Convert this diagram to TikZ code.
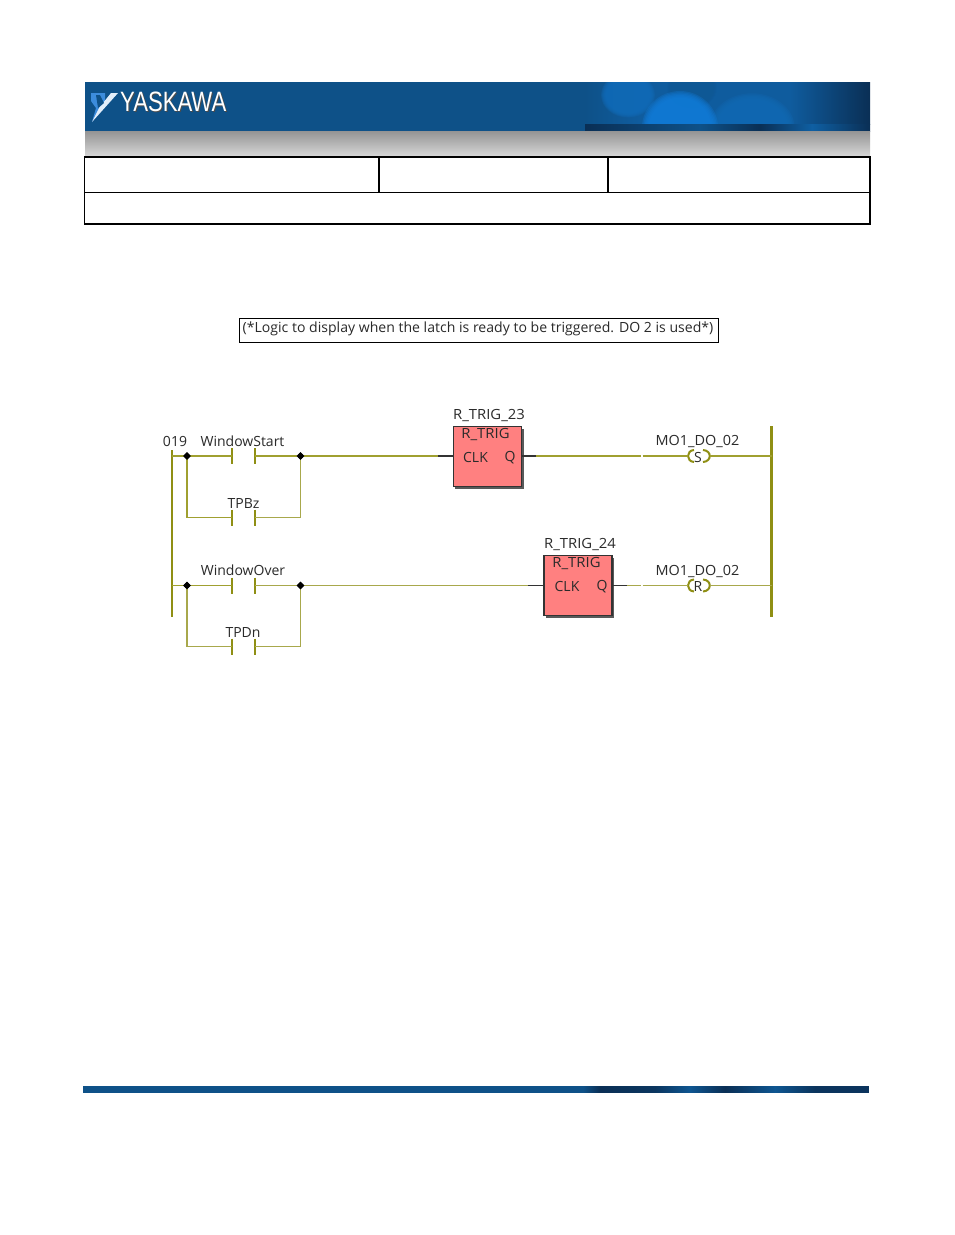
\documentclass[tikz,border=0pt]{standalone}
\usepackage{fontspec}
\setmainfont{Open Sans}
\newfontfamily\logofont{Liberation Sans}
\usetikzlibrary{shapes.geometric}
\definecolor{hdrblue}{HTML}{0E5188}
\definecolor{hdrmid}{HTML}{0F5C9E}
\definecolor{hdrdark}{HTML}{0A2F55}
\definecolor{blob}{HTML}{1080E0}
\definecolor{markblue}{HTML}{3C8CDC}
\definecolor{railc}{HTML}{8F8F14}
\definecolor{wirec}{HTML}{A0A030}
\definecolor{wirel}{HTML}{A8A84C}
\definecolor{fbfill}{HTML}{FF8080}
\definecolor{txtc}{HTML}{2A2A2A}
\tikzset{
  lbl/.style={font=\fontsize{14}{16}\selectfont,text=txtc,inner sep=0pt},
  lblw/.style={lbl,xscale=1.06},
  rail/.style={draw=railc,line width=2.2pt},
  wire/.style={draw=wirec,line width=1.4pt},
  wirelt/.style={draw=wirel,line width=1.8pt},
  stub/.style={draw=black!80,line width=1.2pt},
  bar/.style={draw=railc,line width=1.8pt},
  junction/.style={diamond,fill=black,inner sep=0pt,minimum size=7.5pt},
  fb/.style={draw=black!80,line width=1.1pt,fill=fbfill,minimum width=68pt,minimum height=60pt,inner sep=0pt},
  grid/.style={draw=black,line width=1.3pt},
  pt/.style={inner sep=0pt,minimum size=0pt,outer sep=0pt},
  coilarc/.style={draw=railc,line width=2pt},
  logotxt/.style={font=\logofont\fontsize{28}{30}\selectfont,inner sep=0pt,anchor=west,xscale=0.79}
}
\newcommand{\contact}[2]{%
  \node[pt] (#1a) at (232,#2) {};
  \node[pt] (#1b) at (255,#2) {};
  \draw[bar] (232,#2-8) -- (232,#2+8);
  \draw[bar] (255,#2-8) -- (255,#2+8);
}
\newcommand{\softblob}[5]{% x y rx ry colour
  \foreach \k in {1.12,1.08,1.04,1.0,0.96,0.92}{
    \fill[#5,opacity=0.3] (#1,#2) ellipse ({#3*\k} and {#4*\k});
  }
}
\begin{document}
\begin{tikzpicture}[x=1pt,y=-1pt]
\useasboundingbox (0,0) rectangle (954,1235);
\fill[white] (0,0) rectangle (954,1235);
% header band
\fill[hdrblue] (85,82) rectangle (870,131);
\begin{scope}
\clip (585,82) rectangle (870,124);
\shade[left color=hdrblue,right color=hdrmid] (585,82) rectangle (640,124);
\fill[hdrmid] (640,82) rectangle (790,124);
\shade[left color=hdrmid,right color=hdrdark] (790,82) rectangle (870,124);
\softblob{628}{95}{24}{20}{blob!55!hdrblue}
\softblob{692}{88}{22}{18}{hdrblue!85!blob}
\softblob{752}{128}{38}{31}{blob!50!hdrblue}
\softblob{680}{128}{34}{33}{blob!92!hdrblue}
\end{scope}
\shade[left color=hdrdark,right color=hdrblue] (585,124) rectangle (700,131);
\shade[left color=hdrblue,right color=hdrdark] (700,124) rectangle (760,131);
\shade[left color=hdrdark,right color=hdrblue!70!blob] (760,124) rectangle (812,131);
\shade[left color=hdrblue!70!blob,right color=hdrdark] (812,124) rectangle (870,131);
\shade[top color=black!42,bottom color=black!17] (85,131) rectangle (870,155);
% logo
\fill[markblue] (91,93) -- (105,93) -- (105,103) -- (99,111) -- (92,122) -- (96,108) -- (91,101) -- cycle;
\fill[white!85!markblue] (118,93) -- (111,93) -- (99,108) -- (92,122) -- cycle;
\fill[hdrblue] (96,95) -- (100,95) -- (104,103) -- (98,108) -- cycle;
\node[logotxt,text=black!70] at (121,103) {YASKAWA};
\node[logotxt,text=white] (logo) at (120,102) {YASKAWA};
% title table
\draw[grid] (84.5,157) rectangle (870,224);
\draw[grid,line width=2pt] (84,224) -- (871,224);
\draw[grid] (85,192.5) -- (870,192.5);
\draw[grid] (379,157) -- (379,192);
\draw[grid] (608,157) -- (608,192);
% footer bar
\fill[hdrblue] (83,1086) rectangle (869,1093);
\shade[left color=hdrblue,right color=hdrdark] (583,1086) rectangle (600,1092.6);
\shade[left color=hdrdark,right color=hdrdark!80!hdrblue] (600,1086) rectangle (655,1092.6);
\shade[left color=hdrdark!80!hdrblue,right color=hdrblue!90!blob] (655,1086) rectangle (690,1092.6);
\shade[left color=hdrblue!90!blob,right color=hdrdark] (690,1086) rectangle (725,1092.6);
\shade[left color=hdrdark,right color=hdrblue!90!blob] (725,1086) rectangle (775,1092.6);
\shade[left color=hdrblue!90!blob,right color=hdrdark!85!hdrblue] (775,1086) rectangle (815,1092.6);
\fill[hdrdark!85!hdrblue] (815,1086) rectangle (869,1093);
% comment
\node[draw=black,line width=0.8pt,minimum width=479pt,minimum height=24pt,inner sep=0pt] (comment) at (479,330) {};
\node[lbl,xscale=1.005] (commenttxt) at (478,329) {(*Logic to display when the latch is ready to be triggered. DO 2 is used*)};
% rails
\node[pt] (lt) at (172,450) {};
\node[pt] (lb) at (172,617) {};
\node[pt] (rt) at (771.5,426) {};
\node[pt] (rb) at (771.5,617) {};
\node[pt] (l1) at (172,456) {};
\node[pt] (l2) at (172,585.5) {};
\node[pt] (r1) at (771.5,456) {};
\node[pt] (r2) at (771.5,585.5) {};
\draw[rail] (lt) -- (lb);
\draw[rail] (rt) -- (rb);
% contacts
\contact{wsc}{456}
\contact{tbc}{517.5}
\contact{woc}{585.5}
\contact{tdc}{646.5}
% junctions
\node[junction] (j1) at (187,456) {};
\node[junction] (j2) at (300.5,456) {};
\node[junction] (j3) at (187,585.5) {};
\node[junction] (j4) at (300.5,585.5) {};
\node[pt] (c1) at (187,517.5) {};
\node[pt] (c2) at (300.5,517.5) {};
\node[pt] (c3) at (187,646.5) {};
\node[pt] (c4) at (300.5,646.5) {};
% function blocks
\fill[black!65] (455,429) rectangle (523.5,488.5);
\fill[black!65] (546,558) rectangle (613.5,617.5);
\node[fb] (fb1) at (487.5,456.5) {};
\node[fb] (fb2) at (578,585.5) {};
\node[lblw] (fb1n) at (489,415) {R\_TRIG\_23};
\node[lblw] (fb2n) at (580,544) {R\_TRIG\_24};
\node[lblw] (fb1t) at (485.5,434.5) {R\_TRIG};
\node[lblw] (fb2t) at (576.5,563.5) {R\_TRIG};
\node[lbl] (fb1c) at (475.5,457) {CLK};
\node[lbl] (fb2c) at (567,586) {CLK};
\node[lbl] (fb1q) at (510,457.5) {Q};
\node[lbl] (fb2q) at (602,586.5) {Q};
% stubs
\node[pt] (s1a) at (438,456) {};
\node[pt] (s1b) at (536,456) {};
\node[pt] (s2a) at (528,585.5) {};
\node[pt] (s2b) at (627,585.5) {};
\draw[stub] (s1a) -- (453,456);
\draw[stub] (521.5,456) -- (s1b);
\draw[stub] (s2a) -- (544,585.5);
\draw[stub] (612,585.5) -- (s2b);
% coils
\node[pt] (co1l) at (688,456) {};
\node[pt] (co1r) at (710,456) {};
\node[pt] (co2l) at (688,585.5) {};
\node[pt] (co2r) at (710,585.5) {};
\draw[coilarc] (694,450) .. controls (686,450.5) and (686,461.5) .. (694,462);
\draw[coilarc] (703,450) .. controls (712,450.5) and (712,461.5) .. (703,462);
\draw[coilarc] (694,579.5) .. controls (686,580) and (686,591) .. (694,591.5);
\draw[coilarc] (703,579.5) .. controls (712,580) and (712,591) .. (703,591.5);
\node[lbl] (co1s) at (698,457) {S};
\node[lbl] (co2s) at (698,586) {R};
% wires
\draw[wire] (l1) -- (j1.center) -- (wsca);
\draw[wire] (wscb) -- (j2.center) -- (s1a);
\draw[wire] (s1b) -- (641,456);
\draw[wire] (642.5,456) -- (co1l);
\draw[wire] (co1r) -- (r1);
\draw[wire] (j1.center) -- (c1.center) -- (tbca);
\draw[wirelt] (tbcb) -- (c2.center) -- (j2.center);
\draw[wire] (l2) -- (j3.center) -- (woca);
\draw[wirelt] (wocb) -- (j4.center) -- (s2a);
\draw[wirelt] (s2b) -- (641,585.5);
\draw[wirelt] (642.5,585.5) -- (co2l);
\draw[wirelt] (co2r) -- (r2);
\draw[wirelt] (j3.center) -- (c3.center) -- (tdca);
\draw[wirelt] (tdcb) -- (c4.center) -- (j4.center);
% redraw junction markers over wires
\fill (j1.north) -- (j1.east) -- (j1.south) -- (j1.west) -- cycle;
\fill (j2.north) -- (j2.east) -- (j2.south) -- (j2.west) -- cycle;
\fill (j3.north) -- (j3.east) -- (j3.south) -- (j3.west) -- cycle;
\fill (j4.north) -- (j4.east) -- (j4.south) -- (j4.west) -- cycle;
% labels
\node[lbl] (rung) at (175,441) {019};
\node[lbl] (ws) at (242.5,441) {WindowStart};
\node[lbl] (tb) at (243.5,503) {TPBz};
\node[lbl] (wo) at (243,570.5) {WindowOver};
\node[lbl] (td) at (243,632) {TPDn};
\node[lbl,xscale=1.03] (m1) at (697.5,441.5) {MO1\_DO\_02};
\node[lbl,xscale=1.03] (m2) at (697.5,571) {MO1\_DO\_02};
\end{tikzpicture}
\end{document}
